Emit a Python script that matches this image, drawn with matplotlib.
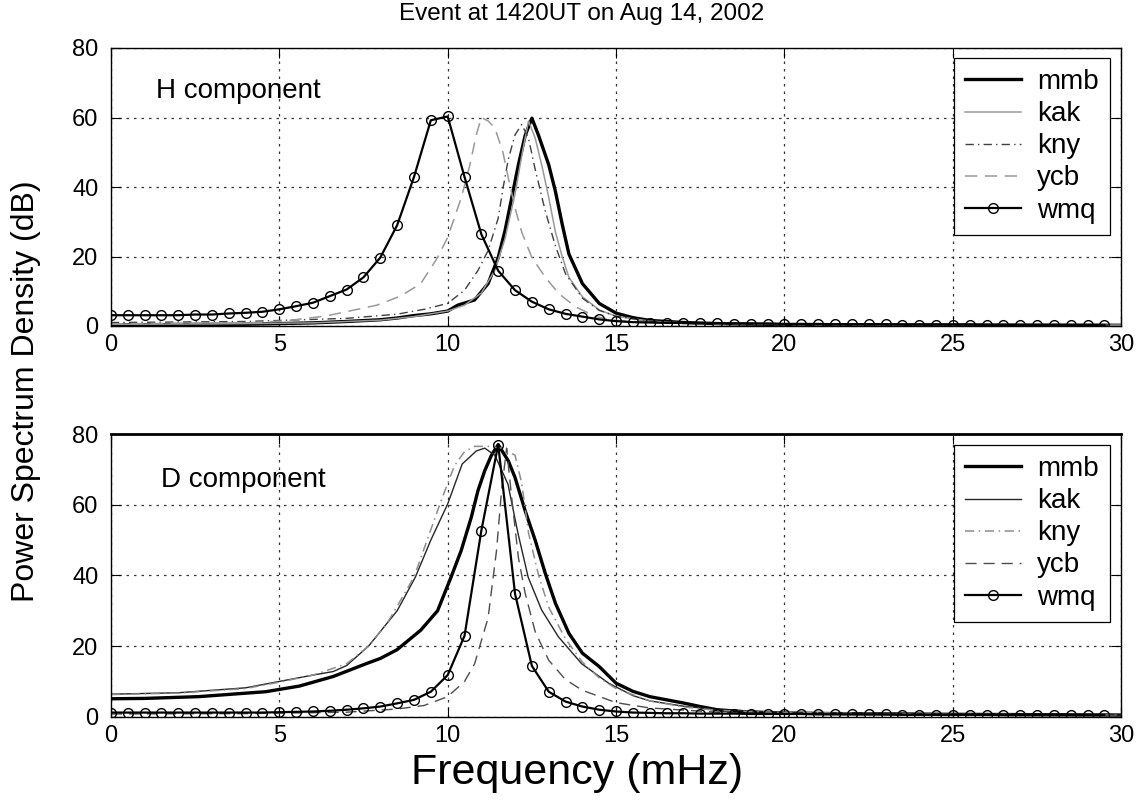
import matplotlib
matplotlib.use("Agg")
import matplotlib.pyplot as plt
import numpy as np

plt.rcParams['font.family'] = ['Liberation Sans', 'DejaVu Sans']

# wmq is sampled every 0.5 mHz (circles)
wmq_f = np.arange(0, 30, 0.5)

# ---- H component (top panel) ----
h_wmq = [3.1, 3.1, 3.1, 3.1, 3.1, 3.3, 3.3, 3.6, 3.8, 4.1,
         4.8, 5.7, 6.7, 8.6, 10.5, 14.0, 19.7, 29.0, 42.9, 59.2,
         60.3, 42.9, 26.4, 15.9, 10.3, 7.0, 4.8, 3.5, 2.7, 1.9,
         1.4, 1.1, 1.0, 0.9, 0.9, 0.8, 0.8, 0.7, 0.7, 0.7,
         0.6, 0.6, 0.6, 0.5, 0.5, 0.5, 0.5, 0.4, 0.4, 0.4,
         0.4, 0.4, 0.3, 0.3, 0.3, 0.3, 0.3, 0.3, 0.3, 0.3]

h_mmb_f = [0, 2, 4, 5, 6, 7, 8, 8.5, 9, 9.5, 10, 10.3, 10.8, 11.2, 11.5, 11.7, 11.9, 12.1, 12.3, 12.5,
           12.7, 13.0, 13.2, 13.4, 13.6, 14.0, 14.5, 15, 15.5, 16, 17, 18, 20, 25, 30]
h_mmb = [0.3, 0.4, 0.5, 0.7, 0.9, 1.3, 1.8, 2.3, 3.0, 3.5, 4.3, 6.0, 7.5, 12.2, 19.7, 27.3, 36.8, 46.4, 54.8, 59.8,
         54.8, 46.4, 38.7, 29.3, 20.7, 12.2, 6.5, 3.7, 2.4, 1.6, 1.0, 0.7, 0.4, 0.3, 0.2]

h_kak_f = [0, 3, 6, 8, 9, 10, 10.5, 11, 11.4, 11.7, 12.0, 12.2, 12.4, 12.6, 12.8, 13.0, 13.2, 13.4, 13.6,
           14.0, 14.5, 15, 16, 17, 20, 30]
h_kak = [0.5, 0.6, 0.9, 1.7, 2.7, 4.3, 6.0, 9.5, 16, 25, 38, 49, 59, 54, 46, 37, 27, 20, 14,
         8.4, 4.6, 2.8, 1.4, 0.9, 0.5, 0.2]

h_kny_f = [0, 4, 7, 8.5, 9.3, 10, 10.5, 10.9, 11.2, 11.5, 11.65, 11.8, 12.0, 12.2, 12.4, 12.6, 12.9,
           13.2, 13.5, 14, 14.5, 15, 16, 17, 20, 30]
h_kny = [1.0, 1.3, 2.2, 3.4, 4.8, 6.5, 10.3, 16, 21.7, 31, 40, 48, 55, 58, 54, 45, 33,
         23, 15, 8, 4.5, 2.8, 1.4, 0.9, 0.5, 0.2]

h_ycb_f = [0, 2, 4.3, 5.2, 6.4, 7.9, 8.6, 9.2, 9.7, 10.0, 10.4, 10.65, 10.85, 11.0, 11.2, 11.4, 11.64,
           11.8, 12.0, 12.2, 12.5, 12.9, 13.3, 13.8, 14.4, 15, 16, 17, 20, 30]
h_ycb = [0.6, 0.8, 1.0, 1.5, 2.9, 6.0, 8.6, 12.2, 19.7, 25.5, 36.8, 46, 55, 60, 59, 57, 50,
         42.6, 34, 27, 19.7, 14, 9.3, 5.5, 2.7, 1.6, 1.0, 0.7, 0.4, 0.2]

# ---- D component (bottom panel) ----
d_wmq = [1.2, 1.2, 1.2, 1.2, 1.2, 1.2, 1.2, 1.2, 1.2, 1.2,
         1.3, 1.4, 1.5, 1.7, 2.0, 2.4, 2.9, 3.8, 4.8, 7.1,
         11.8, 22.9, 52.7, 77.0, 34.8, 14.4, 7.1, 4.3, 2.9, 2.0,
         1.5, 1.2, 1.1, 1.0, 1.0, 0.9, 0.9, 0.9, 0.8, 0.8,
         0.8, 0.8, 0.7, 0.7, 0.7, 0.7, 0.7, 0.6, 0.6, 0.6,
         0.6, 0.6, 0.6, 0.5, 0.5, 0.5, 0.5, 0.5, 0.5, 0.5]

d_mmb_f = [0, 1, 2.6, 4.6, 5.6, 6.6, 7.6, 8.0, 8.5, 9.2, 9.7, 10.1, 10.4, 10.7, 10.9, 11.1, 11.3, 11.5,
           11.8, 12.0, 12.3, 12.6, 12.9, 13.2, 13.6, 14.0, 14.5, 15.0, 15.5, 16.0, 16.5, 17.0, 17.5,
           18.0, 19.0, 20, 25, 30]
d_mmb = [5.1, 5.2, 5.7, 7.1, 8.7, 11.4, 15.1, 16.5, 19, 24.5, 30, 39.5, 47, 56.4, 64, 69.6, 74, 77,
         72.4, 67.7, 58.3, 49.9, 40.5, 32.1, 23.6, 18, 14.2, 9.5, 7.2, 5.7, 4.8, 3.9, 2.9,
         2.0, 1.3, 1.0, 0.7, 0.5]

d_kak_f = [0, 2, 4, 5, 6, 6.6, 7.0, 7.65, 8.5, 9.04, 9.5, 10.0, 10.43, 10.85, 11.1, 11.4, 11.79,
           12.09, 12.39, 12.79, 13.29, 13.98, 14.78, 15.5, 16, 17, 18, 20, 25, 30]
d_kak = [6.4, 6.8, 8.2, 10, 11.8, 12.8, 14.5, 20, 30, 39.5, 50, 60.2, 71.5, 75.2, 76, 74, 65.8,
         51.8, 39.5, 30.2, 22.6, 15, 9.5, 6.0, 4.5, 3.0, 2.0, 1.3, 0.8, 0.5]

d_kny_f = [0, 2, 4, 5, 6, 7, 7.65, 8.2, 9.0, 9.8, 10.2, 10.5, 10.8, 11.2, 11.6, 12.0, 12.2, 12.4,
           12.7, 13.0, 13.5, 14, 14.5, 15, 16, 17, 18, 20, 25, 30]
d_kny = [6.3, 6.7, 8.0, 9.8, 11.8, 15, 20, 26.4, 39.5, 61, 71, 75, 76.5, 76.5, 76, 74, 66, 52,
         40, 31, 22, 15.5, 11, 8, 4.5, 2.8, 1.8, 1.2, 0.7, 0.5]

d_ycb_f = [0, 4, 7, 8.5, 9.3, 10.0, 10.5, 10.8, 11.2, 11.45, 11.6, 11.75, 11.9, 12.1, 12.3, 12.6,
           13.0, 13.5, 14.0, 15.0, 16.0, 18, 20, 30]
d_ycb = [0.8, 0.9, 1.3, 2.2, 3.2, 5.7, 10, 15, 28, 47, 64, 76, 62, 45, 35, 24,
         16, 10.5, 7.5, 4.0, 2.5, 1.3, 0.8, 0.4]

fig = plt.figure(figsize=(11.43, 8), dpi=100)
ax1 = fig.add_axes([0.097, 0.5925, 0.884, 0.3475])
ax2 = fig.add_axes([0.097, 0.104, 0.884, 0.3535])

# top panel
ax1.plot(h_mmb_f, h_mmb, color='black', lw=2.4, label='mmb')
ax1.plot(h_kak_f, h_kak, color='0.6', lw=1.1, label='kak')
ax1.plot(h_kny_f, h_kny, color='0.25', lw=1.0, ls=(0, (6, 3, 1, 3)), label='kny')
ax1.plot(h_ycb_f, h_ycb, color='0.6', lw=1.1, ls=(0, (8, 5)), label='ycb')
ax1.plot(wmq_f, h_wmq, color='black', lw=1.6, marker='o', ms=7, mfc='none', mew=1.0, label='wmq')

# bottom panel
ax2.plot(d_mmb_f, d_mmb, color='black', lw=2.4, label='mmb')
ax2.plot(d_kak_f, d_kak, color='0.15', lw=1.0, label='kak')
ax2.plot(d_kny_f, d_kny, color='0.55', lw=1.1, ls=(0, (6, 3, 1, 3)), label='kny')
ax2.plot(d_ycb_f, d_ycb, color='0.3', lw=1.0, ls=(0, (8, 5)), label='ycb')
ax2.plot(wmq_f, d_wmq, color='black', lw=1.6, marker='o', ms=7, mfc='none', mew=1.0, label='wmq')

panels = [(ax1, 'H component', 0.045, 0.82, 0.964), (ax2, 'D component', 0.050, 0.813, 0.961)]
for ax, name, tx, ty, ly in panels:
    ax.set_xlim(0, 30)
    ax.set_ylim(0, 80)
    ax.set_xticks([0, 5, 10, 15, 20, 25, 30])
    ax.set_yticks([0, 20, 40, 60, 80])
    ax.grid(True, ls=(0, (2, 4)), color='0.2', lw=0.9)
    ax.tick_params(direction='in', top=True, right=True, length=7, labelsize=17)
    ax.tick_params(axis='y', pad=9)
    ax.tick_params(axis='x', pad=6)
    for sp in ax.spines.values():
        sp.set_linewidth(1.0)
    ax.text(tx, ty, name, transform=ax.transAxes, fontsize=20, va='baseline')
    leg = ax.legend(loc='upper right', bbox_to_anchor=(0.989, ly), fontsize=20,
                    fancybox=False, edgecolor='black', framealpha=1, handlelength=2.0,
                    labelspacing=0.22, borderpad=0.4, handletextpad=0.6, borderaxespad=0)
    leg.get_frame().set_linewidth(0.9)

ax2.spines['top'].set_linewidth(2.0)

fig.text(0.509, 0.982, 'Event at 1420UT on Aug 14, 2002', ha='center', va='center', fontsize=17.5)
fig.text(0.023, 0.511, 'Power Spectrum Density (dB)', ha='center', va='center', rotation=90, fontsize=23)
fig.text(0.505, 0.034, 'Frequency (mHz)', ha='center', va='center', fontsize=31)

fig.savefig('out.png', dpi=100)
